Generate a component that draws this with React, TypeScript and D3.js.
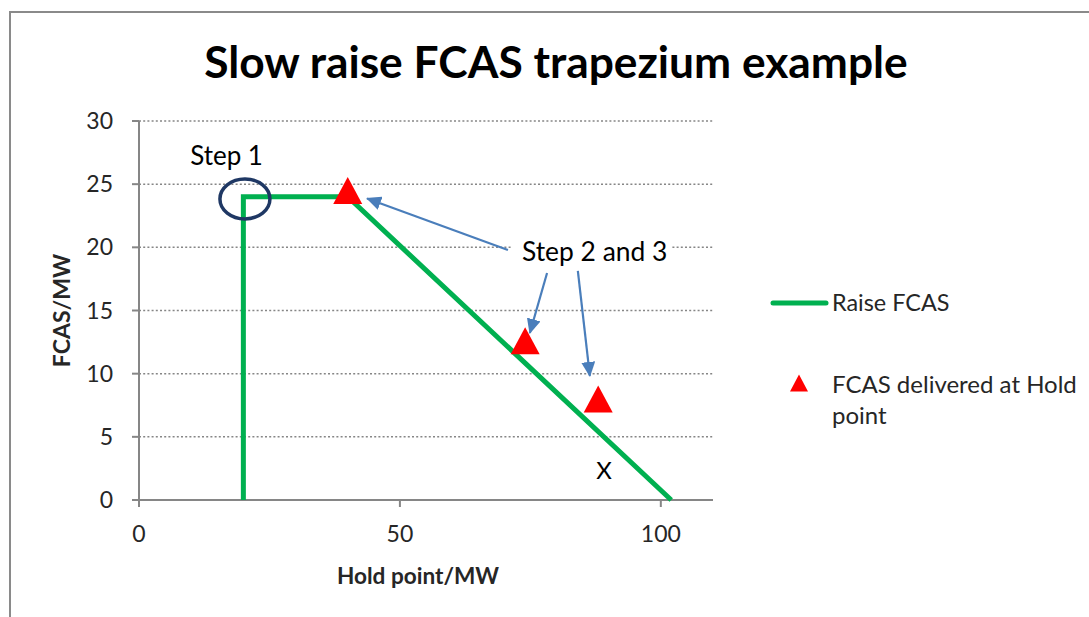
import React from "react";
import * as d3 from "d3";

// ---- data ----
const lineX = [20, 20, 40, 102];
const lineY = [0, 24, 24, 0];
const holdX = [40, 74, 88];
const holdY = [24.5, 12.6, 8];
const yTicks = [0, 5, 10, 15, 20, 25, 30];
const xTicks = [0, 50, 100];
const titleText = "Slow raise FCAS trapezium example";
const xTitle = "Hold point/MW";
const yTitle = "FCAS/MW";
const seriesNames = ["Raise FCAS", "FCAS delivered at Hold", "point"];

// annotations in data units
const step1 = { x: 9.8, y: 26.5, text: "Step 1" };
const ring = { x: 20.3, y: 23.83 };
const step23 = { x: 73.4, y: 18.92, text: "Step 2 and 3" };
const arrows = [
  { x1: 70.7, y1: 19.79, x2: 43.7, y2: 23.87 },
  { x1: 78.2, y1: 17.97, x2: 74.9, y2: 13.22 },
  { x1: 84.1, y1: 18.13, x2: 86.4, y2: 9.82 },
];
const xMark = { x: 89.1, y: 1.7, text: "X" };

const W = 1089;
const H = 617;
const FONT = "Lato, 'Open Sans', sans-serif";
const TXT = "#262626";
const GRAY = "#868686";

export default function App() {
  const x = d3.scaleLinear().domain([0, 110]).range([139, 713]);
  const y = d3.scaleLinear().domain([0, 30]).range([500, 121]);

  const linePath = d3
    .line<number>()
    .x((_, i) => x(lineX[i]))
    .y((_, i) => y(lineY[i]))(lineX);

  const tri = (cx: number, cy: number, w: number, h: number) =>
    `M${cx},${cy - h / 2}L${cx + w / 2},${cy + h / 2}L${cx - w / 2},${cy + h / 2}Z`;

  return (
    <svg
      width={W}
      height={H}
      style={{ position: "absolute", left: 0, top: 0, background: "#fff" }}
      fontFamily={FONT}
    >
      <defs>
        <marker
          id="ah"
          markerUnits="userSpaceOnUse"
          markerWidth={16}
          markerHeight={14}
          refX={14}
          refY={7}
          orient="auto"
        >
          <path d="M0,0L15,7L0,14Z" fill="#4A7EBB" />
        </marker>
      </defs>
      <rect x={0} y={0} width={W} height={H} fill="#fff" />
      {/* frame */}
      <path d={`M10,${H}L10,12L${W},12`} fill="none" stroke="#8a8a8a" strokeWidth={2} />

      {/* title */}
      <text
        x={556}
        y={78}
        textAnchor="middle"
        fontSize={44.3}
        fontWeight="bold"
        fill="#000"
      >
        {titleText}
      </text>

      {/* gridlines */}
      {yTicks
        .filter((t) => t !== 0)
        .map((t) => (
          <line
            key={"g" + t}
            x1={x(0)}
            x2={x(110)}
            y1={y(t)}
            y2={y(t)}
            stroke={GRAY}
            strokeWidth={1.5}
            strokeDasharray="2 2.2"
          />
        ))}

      {/* axes */}
      <line x1={x(0)} x2={x(0)} y1={y(30)} y2={y(0)} stroke={GRAY} strokeWidth={2} />
      <line x1={x(0) - 7} x2={x(110)} y1={y(0)} y2={y(0)} stroke={GRAY} strokeWidth={2} />
      {yTicks.map((t) => (
        <g key={"yt" + t}>
          <line x1={x(0) - 7} x2={x(0)} y1={y(t)} y2={y(t)} stroke={GRAY} strokeWidth={2} />
          <text
            x={113}
            y={y(t)}
            dy="0.35em"
            textAnchor="end"
            fontSize={23}
            fill={TXT}
          >
            {t}
          </text>
        </g>
      ))}
      {xTicks.map((t) => (
        <g key={"xt" + t}>
          <line x1={x(t)} x2={x(t)} y1={y(0)} y2={y(0) + 7} stroke={GRAY} strokeWidth={2} />
          <text x={x(t)} y={542} textAnchor="middle" fontSize={23} fill={TXT}>
            {t}
          </text>
        </g>
      ))}

      {/* axis titles */}
      <text x={418} y={584} textAnchor="middle" fontSize={22.6} fontWeight="bold" fill={TXT}>
        {xTitle}
      </text>
      <text
        transform={`translate(70,${(y(0) + y(30)) / 2}) rotate(-90)`}
        textAnchor="middle"
        fontSize={23}
        fontWeight="bold"
        fill={TXT}
      >
        {yTitle}
      </text>

      {/* series line */}
      <path
        d={linePath || ""}
        fill="none"
        stroke="#00B050"
        strokeWidth={5}
        strokeLinejoin="miter"
      />

      {/* markers */}
      {holdX.map((v, i) => (
        <path key={"m" + i} d={tri(x(v), y(holdY[i]), 29, 27)} fill="#FF0000" />
      ))}

      {/* annotations */}
      <text x={x(step1.x)} y={y(step1.y)} fontSize={26} fill="#000">
        {step1.text}
      </text>
      <ellipse
        cx={x(ring.x)}
        cy={y(ring.y)}
        rx={25}
        ry={20}
        fill="none"
        stroke="#1F3864"
        strokeWidth={3.5}
      />
      <rect
        x={x(step23.x) - 10}
        y={y(step23.y) - 26}
        width={160}
        height={34}
        fill="#fff"
      />
      <text x={x(step23.x)} y={y(step23.y)} fontSize={26.4} fill="#000">
        {step23.text}
      </text>
      {arrows.map((a, i) => (
        <line
          key={"a" + i}
          x1={x(a.x1)}
          y1={y(a.y1)}
          x2={x(a.x2)}
          y2={y(a.y2)}
          stroke="#4A7EBB"
          strokeWidth={2.2}
          markerEnd="url(#ah)"
        />
      ))}
      <text x={x(xMark.x)} y={y(xMark.y)} textAnchor="middle" fontSize={24} fill="#000">
        {xMark.text}
      </text>

      {/* legend */}
      <line
        x1={773}
        x2={826}
        y1={303}
        y2={303}
        stroke="#00B050"
        strokeWidth={5}
        strokeLinecap="round"
      />
      <text x={832} y={303} dy="0.35em" fontSize={23.4} fill={TXT}>
        {seriesNames[0]}
      </text>
      <path d={tri(799, 383, 18, 17)} fill="#FF0000" />
      <text x={832} y={393} fontSize={24} fill={TXT}>
        {seriesNames[1]}
      </text>
      <text x={832} y={424} fontSize={24} fill={TXT}>
        {seriesNames[2]}
      </text>
    </svg>
  );
}
